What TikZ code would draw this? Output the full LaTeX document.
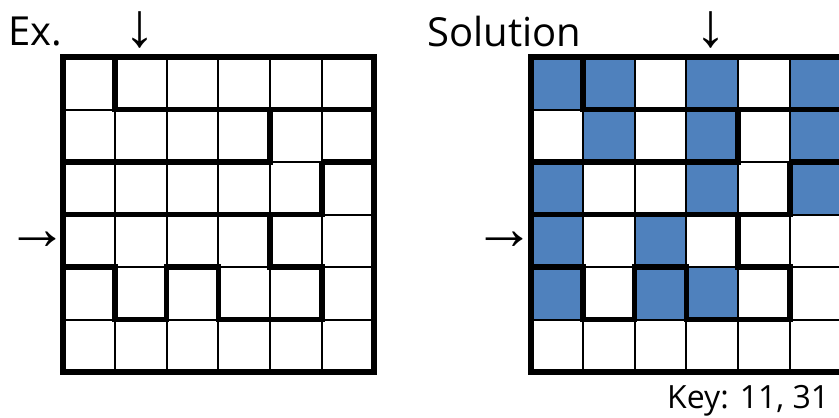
\documentclass[tikz,border=0pt]{standalone}
\usepackage{fontspec}
\setmainfont{Open Sans}
\newfontfamily\arrowfont{Liberation Serif}
\definecolor{cellblue}{HTML}{4F81BD}
% walls of the puzzle, in cell units
\newcommand{\mazewalls}{%
  \foreach \i in {1,...,5} {
    \draw[cellline] (\i,0) -- (\i,6);
    \draw[cellline] (0,\i) -- (6,\i);
  }
  \draw[wall] (1,0) -- (1,1) -- (6,1);
  \draw[wall] (4,1) -- (4,2) -- (0,2);
  \draw[wall] (5,2) -- (6,2);
  \draw[wall] (5,2) -- (5,3) -- (0,3);
  \draw[wall] (4,3) -- (4,4) -- (5,4) -- (5,5) -- (3,5) -- (3,4) -- (2,4)
              -- (2,5) -- (1,5) -- (1,4) -- (0,4);
  \draw[wall] (0,0) rectangle (6,6);
}

\begin{document}
\begin{tikzpicture}[x=1pt,y=-1pt]
  \tikzstyle{cellline}=[line width=2pt]
  \tikzstyle{wall}=[line width=5.5pt,line cap=square,line join=miter]
  \tikzstyle{title}=[inner sep=0pt,anchor=base west,font=\fontsize{40}{42}\selectfont]
  \tikzstyle{pointer}=[inner sep=0pt,font=\arrowfont\fontsize{62}{62}\selectfont]
  \useasboundingbox (0,0) rectangle (839,418);
  \node[title] (ex)  at (8,45)  {Ex.};
  \node[title] (sol) at (427,46) {Solution};
  \node[title,font=\fontsize{32}{34}\selectfont] (key) at (667,408) {Key: 11, 31};
  \node[pointer] (D_1) at (140,30)  {↓};
  \node[pointer] (D_2) at (711,30)  {↓};
  \node[pointer] (R_1) at (37,241)  {→};
  \node[pointer] (R_2) at (504,241) {→};
  % example grid
  \begin{scope}[shift={(63,57)},x=51.8pt,y=-52.5pt]
    \mazewalls
  \end{scope}
  % solution grid
  \begin{scope}[shift={(531,57)},x=51.8pt,y=-52.5pt]
    \foreach \c/\r in {0/0,1/0,3/0,5/0,1/1,3/1,5/1,0/2,3/2,5/2,0/3,2/3,0/4,2/4,3/4}
      \fill[cellblue] (\c,\r) rectangle ++(1,1);
    \mazewalls
  \end{scope}
\end{tikzpicture}
\end{document}
